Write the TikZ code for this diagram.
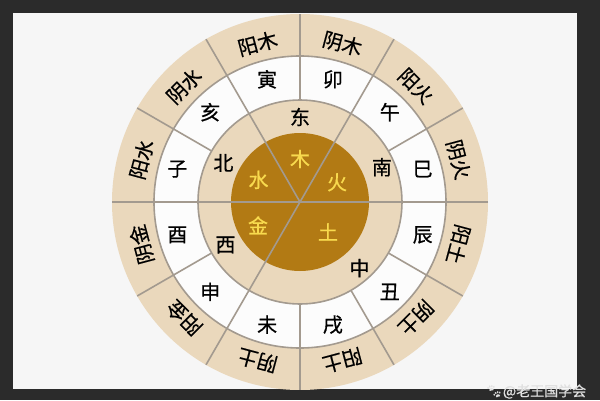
\documentclass[tikz,border=0pt]{standalone}
\usepackage{fontspec}
\setmainfont{Noto Sans CJK SC}[FakeBold=0.6, AutoFakeBold=0.6]
\newfontfamily\emojifont{Noto Emoji}
\usepackage{tikz}

\definecolor{framegray}{HTML}{2B2B2B}
\definecolor{paper}{HTML}{F6F6F6}
\definecolor{ringtan}{HTML}{EAD8BC}
\definecolor{ringwhite}{HTML}{FCFCFC}
\definecolor{corebrown}{HTML}{B27A14}
\definecolor{elemyellow}{HTML}{F8DA4E}
\definecolor{linegray}{HTML}{A39A8F}

\begin{document}
\begin{tikzpicture}[
        x=1pt, y=1pt,
        every node/.style={inner sep=0pt, font=\fontsize{20}{20}\selectfont},
        branch/.style={text=black},
        ganzhi/.style={text=black},
        element/.style={text=elemyellow},
        divider/.style={draw=linegray, line width=1.6pt},
        % every label/.style={draw}
    ]
        \useasboundingbox (-300,-198) rectangle (300,202);
        \fill[framegray] (-300,-198) rectangle (300,202);
        \fill[paper] (-287,189) rectangle (277,-187);

        \begin{scope}
        \clip (-287,189) rectangle (277,-187);
        \fill[ringtan] (0,0) circle (188);
        \fill[ringwhite] (0,0) circle (146);
        \fill[ringtan] (0,0) circle (102);
        \fill[corebrown] (0,0) circle (69);
        \draw[divider] (0,0) circle (146);
        \draw[divider] (0,0) circle (102);
        % spokes through the centre
        \draw[divider] (0:188) -- (180:188);
        \draw[divider] (60:188) -- (240:188);
        \draw[divider] (0,0) -- (120:188);
        % spokes in the two outer rings
        \draw[divider] (30:102) -- (30:188);
        \draw[divider] (90:102) -- (90:188);
        \draw[divider] (150:102) -- (150:188);
        \draw[divider] (210:102) -- (210:188);
        \draw[divider] (270:102) -- (270:188);
        \draw[divider] (300:102) -- (300:188);
        \draw[divider] (330:102) -- (330:188);
        \end{scope}

        \node[element] at (90:43) (wood) {木};
        \node[element] at (28:42) (fire) {火};
        \node[element] at (152:47) (water) {水};
        \node[element] at (209:48) (metal) {金};
        \node[element] at (313:41) (earth) {土};

        \node[branch] at (90:85) (east) {东};
        \node[branch] at (23:89) (south) {南};
        \node[branch] at (153:86) (north) {北};
        \node[branch] at (210:86) (west) {西};
        \node[branch] at (312:89) (centre) {中};

        \node[branch] at (105:127) (yin) {寅};
        \node[branch] at (75:127) (mao) {卯};
        \node[branch] at (45:127) (wu) {午};
        \node[branch] at (15:127) (si) {巳};
        \node[branch] at (-15:127) (chen) {辰};
        \node[branch] at (-45:127) (chou) {丑};
        \node[branch] at (-75:127) (xu) {戌};
        \node[branch] at (-105:127) (wei) {未};
        \node[branch] at (-135:127) (shen) {申};
        \node[branch] at (-165:127) (you) {酉};
        \node[branch] at (165:127) (zi) {子};
        \node[branch] at (135:127) (hai) {亥};

        \node[ganzhi, rotate=15] at (105:164) (yin-label) {阳木};
        \node[ganzhi, rotate=-15] at (75:164) (mao-label) {阴木};
        \node[ganzhi, rotate=-45] at (45:164) (wu-label) {阳火};
        \node[ganzhi, rotate=-75] at (15:164) (si-label) {阴火};
        \node[ganzhi, rotate=-105] at (-15:164) (chen-label) {阳土};
        \node[ganzhi, rotate=-135] at (-45:164) (chou-label) {阴土};
        \node[ganzhi, rotate=-165] at (-75:164) (xu-label) {阳土};
        \node[ganzhi, rotate=165] at (-105:164) (wei-label) {阴土};
        \node[ganzhi, rotate=135] at (-135:164) (shen-label) {阳金};
        \node[ganzhi, rotate=105] at (-165:164) (you-label) {阴金};
        \node[ganzhi, rotate=75] at (165:164) (zi-label) {阳水};
        \node[ganzhi, rotate=45] at (135:164) (hai-label) {阴水};

        \node[anchor=west, text=white!88!black, font=\fontsize{14}{14}\selectfont]
          at (185,-189.5) (mark) {{\emojifont 🐾}@老王国学会};
    \end{tikzpicture}
\end{document}
